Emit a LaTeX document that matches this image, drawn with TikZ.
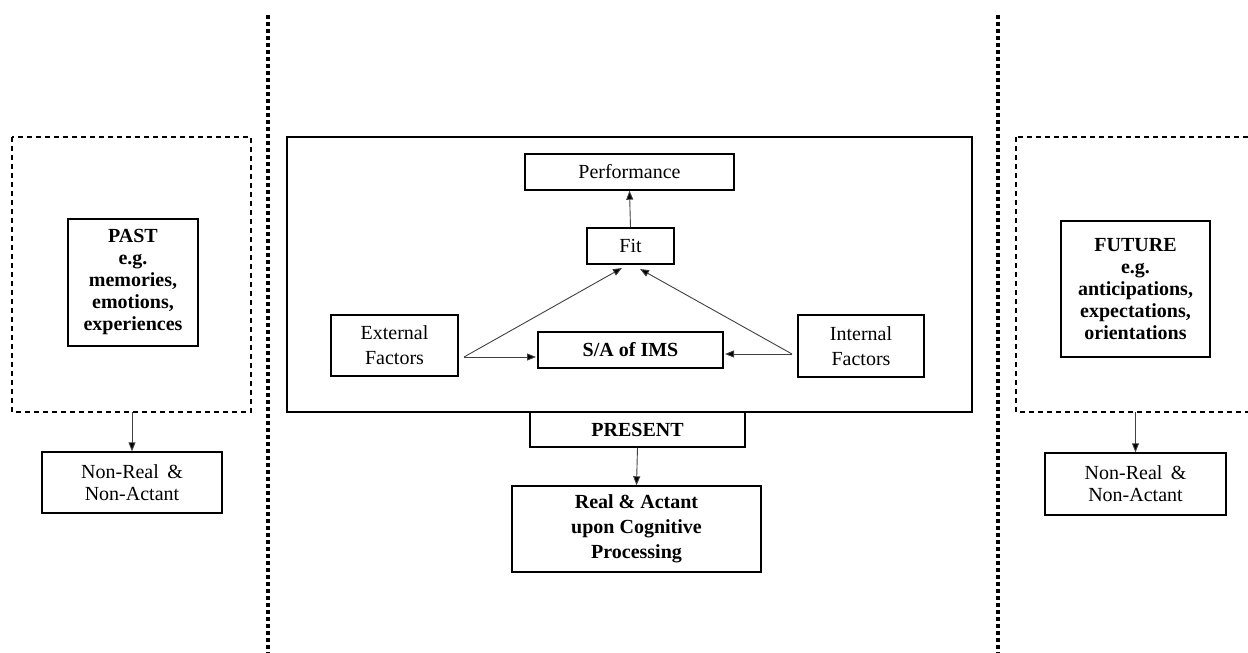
\documentclass[tikz,border=0pt]{standalone}
\usepackage{fontspec}
\setmainfont{Liberation Serif}
\usetikzlibrary{arrows.meta,calc}
\tikzset{
  box/.style={draw, line width=1.4pt, inner sep=0pt, align=center, font=\fontsize{20}{22}\selectfont},
  wbox/.style={box, font=\fontsize{20}{25}\selectfont},
  dashbox/.style={draw, line width=1.2pt, dash pattern=on 5pt off 4pt},
  dotline/.style={line width=4pt, dash pattern=on 4pt off 3pt},
  arr/.style={line width=0.9pt, draw=black!75, -{Triangle[length=9pt,width=7pt,fill=black]}},
}
\begin{document}
\begin{tikzpicture}[x=1pt,y=-1pt]
\useasboundingbox (0,0) rectangle (1248,653);
\clip (0,0) rectangle (1248,653);

% separators
\draw[dotline] (267.7,15) -- (267.7,660);
\draw[dotline] (997.7,15) -- (997.7,660);

% PAST side
\draw[dashbox] (12,137) rectangle (251,412);
\node[box, minimum width=130pt, minimum height=127pt] (past) at (133,282.5)
  {\textbf{PAST}\\\textbf{e.g.}\\\textbf{memories,}\\\textbf{emotions,}\\\textbf{experiences}};
\node[box, minimum width=180pt, minimum height=61pt] (nrl) at (132,482.5) {Non-Real \,\&\\Non-Actant};
\coordinate (pastout) at (132,412);
\draw[arr] (pastout) -- (nrl.north);

% PRESENT
\node[draw, line width=1.4pt, minimum width=685pt, minimum height=275pt, inner sep=0pt] (present box) at (629.5,274.5) {};
\node[box, minimum width=209pt, minimum height=36pt] (perf) at (629.5,172) {Performance};
\node[box, minimum width=87pt, minimum height=36pt] (fit) at (630.5,246) {Fit};
\node[wbox, minimum width=127pt, minimum height=61pt] (ext) at (394.5,345.5) {External\\Factors};
\node[box, minimum width=185pt, minimum height=36pt] (sa) at (630.5,350) {\textbf{S/A of IMS}};
\node[wbox, minimum width=126pt, minimum height=62pt] (int) at (861,346) {Internal\\Factors};
\node[box, minimum width=215pt, minimum height=35pt] (present) at (637.5,429.5) {\textbf{PRESENT}};
\node[wbox, minimum width=249pt, minimum height=86pt] (real) at (636.5,529)
  {\textbf{Real \& Actant}\\\textbf{upon Cognitive}\\\textbf{Processing}};

\coordinate (extout) at (464,357);
\coordinate (intout) at (792,354);
\coordinate (fitL) at (622,268);
\coordinate (fitR) at (640,269);
\coordinate (saL) at (536,357);
\coordinate (saR) at (725,354);
\draw[arr] (fit.north) -- (perf.south);
\draw[arr] (extout) -- (fitL);
\draw[arr] (extout) -- (saL);
\draw[arr] (intout) -- (fitR);
\draw[arr] (intout) -- (saR);
\draw[arr] (present.south) -- (real.north);

% FUTURE side
\draw[dashbox] (1016,137) rectangle (1262,412);
\node[box, minimum width=149pt, minimum height=136pt] (future) at (1135.5,289)
  {\textbf{FUTURE}\\\textbf{e.g.}\\\textbf{anticipations,}\\\textbf{expectations,}\\\textbf{orientations}};
\node[box, minimum width=181pt, minimum height=62pt] (nrr) at (1135.5,484) {Non-Real \,\&\\Non-Actant};
\coordinate (futout) at (1135.5,412);
\draw[arr] (futout) -- (nrr.north);
\end{tikzpicture}
\end{document}
